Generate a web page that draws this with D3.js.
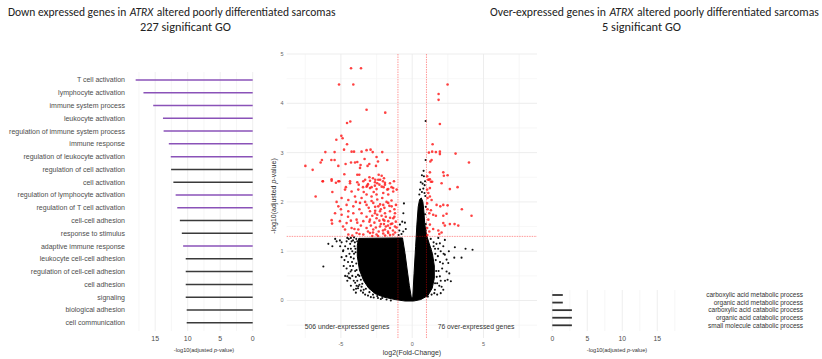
<!DOCTYPE html>
<html>
<head>
<meta charset="utf-8">
<script src="https://cdn.jsdelivr.net/npm/d3@7"></script>
<style>
  body { margin: 0; background: #fff; }
  text { font-family: "Liberation Sans", Arial, sans-serif; }
</style>
</head>
<body>
<script>
var width = 822, height = 359;

// GO terms of the down expressed genes (left panel), top to bottom
var downTerms = ["T cell activation", "lymphocyte activation", "immune system process",
  "leukocyte activation", "regulation of immune system process", "immune response",
  "regulation of leukocyte activation", "regulation of cell activation", "cell activation",
  "regulation of lymphocyte activation", "regulation of T cell activation", "cell-cell adhesion",
  "response to stimulus", "adaptive immune response", "leukocyte cell-cell adhesion",
  "regulation of cell-cell adhesion", "cell adhesion", "signaling", "biological adhesion",
  "cell communication"];
var downScore = [18.0, 16.8, 15.3, 13.8, 13.7, 12.9, 12.6, 12.55, 12.2, 11.85,
  11.6, 11.2, 10.9, 10.7, 10.3, 10.3, 10.3, 10.3, 10.15, 10.15];
var downImmune = [1, 1, 1, 1, 1, 1, 1, 0, 0, 1, 1, 0, 0, 1, 0, 0, 0, 0, 0, 0];
var downTicks = [0, 5, 10, 15];

// GO terms of the over-expressed genes (right panel)
var upTerms = ["carboxylic acid metabolic process", "organic acid metabolic process",
  "carboxylic acid catabolic process", "organic acid catabolic process",
  "small molecule catabolic process"];
var upScore = [1.5, 1.5, 2.8, 2.8, 2.8];
var upTicks = [0, 5, 10, 15];

// volcano: [log2 fold change, -log10 adjusted p]
var volcanoXTicks = [-5, 0, 5];
var volcanoYTicks = [0, 1, 2, 3, 4, 5];
var fcCut = 1, pCut = -Math.log10(0.05);

var redDown = [
  [-4.29,4.71],[-3.59,4.71],[-5.13,4.38],[-4.13,4.38],[-3.20,3.87],[-1.89,3.81],
  [-4.57,3.60],[-4.34,3.63],[-4.97,3.34],[-4.88,3.29],[-5.32,3.26],[-4.57,3.17],[-4.78,3.06],
  [-6.09,3.01],[-5.44,3.01],[-4.25,3.02],[-4.08,3.02],[-3.55,3.02],[-3.20,3.05],[-2.92,3.06],
  [-2.77,3.01],[-2.10,3.01],[-2.50,2.91],[-1.75,2.85],[-6.33,2.85],[-5.67,2.85],[-5.44,2.85],
  [-6.42,2.80],[-7.49,2.73],[-6.98,2.65],[-5.18,2.73],[-4.67,2.77],[-4.29,2.80],[-4.01,2.80],
  [-3.85,2.81],[-3.34,2.87],[-3.01,2.77],[-3.13,2.73],[-3.62,2.75],[-3.66,2.69],[-2.54,2.73],
  [-2.40,2.82],[-4.76,2.56],[-3.85,2.55],[-3.71,2.55],[-5.65,2.46],[-6.26,2.42],[-5.35,2.39],
  [-5.11,2.42],[-4.36,2.42],[-2.59,2.45],[-2.14,2.53],[-1.91,2.39],[-1.98,2.48],[-1.33,2.28],
  [-1.68,2.26],[-3.75,2.35],[-3.45,2.30],[-3.10,2.36],[-2.85,2.30],[-2.62,2.33],[-2.45,2.38],
  [-2.25,2.45],[-2.00,2.30],[-3.00,2.50],[-2.75,2.48],[-2.35,2.55],[-3.30,2.45],
  [-6.77,2.11],[-6.28,2.42],[-5.65,2.43],[-5.18,2.42],[-4.36,2.38],[-3.85,2.40],[-3.43,2.42],
  [-2.96,2.43],[-2.61,2.40],[-2.38,2.45],[-3.20,2.31],[-2.96,2.28],[-2.50,2.26],[-2.14,2.31],
  [-1.91,2.35],[-1.56,2.38],[-1.28,2.42],[-4.71,2.25],[-4.25,2.21],[-3.78,2.25],[-4.95,2.08],
  [-4.48,2.04],[-4.01,2.11],[-3.55,2.08],[-3.20,2.15],[-2.85,2.11],[-2.50,2.15],[-2.03,2.18],
  [-1.68,2.15],[-1.33,2.21],[-1.09,2.25],[-5.65,1.63],[-5.62,1.56],[-5.18,1.91],[-4.60,1.94],
  [-4.13,1.91],[-3.66,1.98],[-3.20,1.94],[-2.73,1.98],[-2.38,1.91],[-2.03,1.94],[-1.68,1.98],
  [-1.44,1.91],[-1.14,1.94],[-5.41,1.77],[-4.95,1.74],[-4.48,1.81],[-4.13,1.77],[-3.55,1.77],
  [-2.96,1.81],[-2.61,1.77],[-2.26,1.81],[-1.91,1.77],[-1.56,1.81],[-1.21,1.77],[-5.07,1.61],
  [-4.60,1.57],[-3.90,1.64],[-3.43,1.61],[-2.96,1.64],[-2.50,1.67],[-2.03,1.64],[-1.68,1.61],
  [-1.33,1.67],[-4.71,1.44],[-4.25,1.47],[-3.78,1.44],[-3.20,1.47],[-2.73,1.44],[-2.26,1.50],
  [-1.91,1.44],[-1.56,1.47],[-1.21,1.50],[-4.48,1.34],[-3.90,1.37],[-3.43,1.34],[-2.96,1.37],
  [-2.50,1.34],[-2.03,1.36],[-1.68,1.37],[-1.33,1.34],
  [-3.30,2.00],[-3.05,1.88],[-2.85,2.02],[-2.60,1.90],[-2.45,2.05],[-2.25,1.95],[-2.10,2.08],
  [-1.95,1.88],[-1.80,2.00],[-1.60,1.92],[-1.45,2.03],[-1.25,1.85],[-3.20,1.70],[-3.00,1.60],
  [-2.80,1.72],[-2.65,1.58],[-2.45,1.74],[-2.30,1.62],[-2.15,1.72],[-1.98,1.55],[-1.85,1.70],
  [-1.70,1.52],[-1.55,1.68],[-1.40,1.56],[-1.25,1.70],[-1.15,1.60],[-3.10,1.40],[-2.90,1.52],
  [-2.75,1.38],[-2.55,1.48],[-2.35,1.40],[-2.20,1.55],[-2.05,1.42],[-1.85,1.50],[-1.70,1.40],
  [-1.50,1.55],[-1.35,1.42],[-1.20,1.38],[-1.10,1.48],[-3.60,1.52],[-3.85,1.58],[-4.05,1.45],
  [-3.70,1.85],[-3.95,2.00],[-4.30,1.62],[-4.50,1.70],[-3.40,2.20],[-2.70,2.20],[-2.30,2.35],
  [-1.75,2.25],[-1.45,2.30],[-2.20,1.85],[-2.60,1.82],[-1.95,1.62],[-2.80,1.31],[-2.40,1.31],
  [-1.90,1.32],[-1.55,1.33],[-3.70,1.35],[-4.20,1.32],[-4.85,1.50],[-5.00,1.85],[-5.30,2.00],
  [-5.60,2.20],[-4.65,2.30],[-3.15,2.33],[-2.05,2.42]
];

var redUp = [
  [2.48,4.38],[1.85,4.19],[1.85,4.07],[1.94,3.58],[1.43,3.17],[1.17,3.00],[1.40,3.02],
  [1.66,3.01],[1.94,3.02],[1.94,2.97],[3.04,2.98],[1.36,2.85],[1.27,2.82],[3.98,2.80],
  [1.24,2.60],[2.18,2.60],[2.22,2.53],[2.48,2.54],[1.05,2.52],[1.13,2.45],[1.24,2.46],
  [1.40,2.41],[2.06,2.38],[3.18,2.30],[2.64,2.26],[1.24,2.28],[1.15,2.45],[1.31,2.41],
  [1.05,2.25],[1.13,2.18],[1.24,2.11],[1.08,2.08],[1.36,2.04],[1.05,1.97],[1.71,1.94],
  [1.97,1.91],[2.18,1.94],[2.48,1.93],[3.48,1.85],[4.16,1.72],[1.08,1.85],[1.31,1.83],
  [1.20,1.77],[2.41,1.76],[2.18,1.72],[1.47,1.74],[1.66,1.72],[2.64,1.55],[2.97,1.55],
  [3.23,1.52],[2.18,1.57],[2.29,1.52],[1.83,1.42],[2.06,1.38],[1.90,1.35],[1.13,1.64],
  [1.24,1.54],[1.05,1.47],[1.20,1.40],[1.06,1.33],[1.47,1.45]
];

// dense core of the non-significant genes, traced as an outline
var blackCore = [
  [-3.75,1.26],[-0.68,1.27],[-0.5,0.95],[-0.35,0.62],[-0.2,0.3],[-0.06,0.06],[0.04,0.06],
  [0.13,0.55],[0.24,1.1],[0.33,1.55],[0.42,1.9],[0.52,2.05],[0.64,2.08],[0.75,2.0],
  [0.82,1.8],[0.88,1.55],[1.0,1.33],[1.2,1.15],[1.42,0.95],[1.55,0.7],[1.55,0.45],
  [1.4,0.25],[1.1,0.1],[0.6,0.02],[0.1,-0.01],[-0.5,-0.01],[-1.2,0.02],[-2.0,0.07],
  [-2.6,0.14],[-3.05,0.25],[-3.4,0.4],[-3.7,0.62],[-3.85,0.9],[-3.85,1.12]
];

// scattered non-significant genes around the core
var blackPts = [
  [-4.45,1.25],[-4.6,1.2],[-4.35,1.15],[-4.7,1.1],[-4.5,1.05],[-4.85,1.0],[-4.4,0.95],
  [-4.62,0.9],[-4.3,0.88],[-4.75,0.82],[-4.5,0.78],[-4.35,0.7],[-4.6,0.65],[-4.25,0.62],
  [-4.45,0.55],[-4.2,0.5],[-4.35,0.45],[-4.1,0.4],[-4.0,0.36],[-3.9,0.3],[-3.8,0.25],
  [-3.6,0.2],[-3.45,0.16],[-3.3,0.12],[-3.1,0.1],[-2.9,0.07],[-2.7,0.06],[-2.4,0.05],
  [-2.2,0.03],[-1.8,0.02],[-1.5,0.0],[-4.95,1.18],[-5.05,1.1],[-4.95,0.88],[-4.8,0.7],
  [-4.7,0.5],[-4.55,0.4],[-4.3,0.3],[-4.1,0.22],[-3.95,0.16],
  [-4.15,1.22],[-4.05,1.1],[-4.2,1.0],[-4.1,0.85],[-4.15,0.7],[-4.0,0.6],[-3.95,0.48],
  [-3.85,0.4],[-3.7,0.32],[-3.55,0.28],[-3.4,0.22],[-4.3,1.05],[-4.25,1.2],[-4.02,1.18],
  [-3.98,1.05],[-4.08,0.95],[-3.92,0.75],[-4.22,0.78],[-3.7,0.5],[-3.6,0.42],
  [-3.92,1.25],[-3.97,0.98],[-3.9,0.62],[-3.8,0.52],[-3.5,0.34],[-3.25,0.24],[-3.0,0.17],
  [-2.75,0.12],[-2.45,0.09],[-2.1,0.05],[-4.08,1.28],[-4.3,1.27],[-4.55,1.27],[-3.86,1.2],
  [-6.23,0.69],[-5.88,1.15],[-5.3,1.2],[-5.07,1.22],[-4.83,1.02],[-4.55,0.49],[-4.43,0.46],
  [-4.32,0.59],[-3.94,0.24],[-3.78,0.29],[-5.4,1.25],[-5.6,1.1],
  [-0.58,1.97],[-0.62,1.77],[-0.51,1.58],[-0.63,1.40],[-0.86,1.54],[-0.75,1.35],[-0.9,1.42],
  [-0.45,1.45],[-0.7,1.6],[-0.95,1.33],
  [0.94,3.64],[0.94,2.85],[0.80,2.63],[0.68,2.54],[0.82,2.52],[0.73,2.37],[0.87,2.34],
  [0.78,2.27],[0.9,2.42],[0.6,2.4],[0.55,2.25],[0.92,2.12],[0.95,1.9],[0.95,1.55],
  [0.86,2.18],[0.68,2.2],[0.5,2.15],[0.9,1.75],[0.94,1.42],
  [1.3,1.25],[1.5,1.18],[1.83,1.27],[1.94,1.16],[2.18,1.10],[2.29,1.23],[2.29,0.93],
  [2.41,0.83],[2.53,0.76],[2.41,0.59],[2.48,0.42],[2.71,0.39],[2.06,0.28],[2.18,0.22],
  [1.94,0.49],[1.59,0.22],[1.36,0.12],[2.1,0.65],[2.2,0.95],[2.0,1.0],[1.7,1.15],[2.57,1.00],
  [2.99,1.08],[3.74,1.05],[4.23,1.03],[2.95,0.87],[3.46,0.87],[2.6,0.55],[2.3,0.4],[2.0,0.15],
  [1.1,0.08],[2.15,0.75],[1.75,0.12],[1.8,0.9],[1.85,0.6],[1.75,0.35],[1.95,0.78],[1.6,1.05],
  [1.72,0.48],[2.0,0.4],[1.9,0.3],[1.55,0.15],[1.82,1.05],[1.65,0.82],[1.68,0.6],[1.6,0.35],
  [1.5,1.1],[1.28,1.05],[1.62,0.95]
];

var svg = d3.select('body').append('svg')
    .attr('width', width)
    .attr('height', height);

var gridMajor = '#ebebeb', gridMinor = '#f4f4f4', axisText = '#4d4d4d';

// ---- titles: words laid side by side (no padded spaces), size fitted to width ----
function title(x, y, parts, w) {
  var g = svg.append('g');
  var nodes = parts.map(function(p) {
    return g.append('text')
      .attr('y', y)
      .style('font-family', 'Carlito, Calibri, Lato, sans-serif')
      .style('font-style', p[1] ? 'italic' : 'normal')
      .attr('fill', '#222')
      .text(p[0]);
  });
  function lay(s) {
    var cx = x, gap = 0.3 * s;
    nodes.forEach(function(n, i) {
      n.style('font-size', s + 'px').attr('x', cx);
      cx += n.node().getComputedTextLength() + (i < nodes.length - 1 ? gap : 0);
    });
    return cx - x;
  }
  var tw = lay(12.5);
  lay(+(12.5 * w / tw).toFixed(2));
}
title(8, 15.6, [['Down expressed genes in'], ['ATRX', 1], ['altered poorly differentiated sarcomas']], 328);
title(140, 30.8, [['227 significant GO']], 91);
title(490, 15.6, [['Over-expressed genes in'], ['ATRX', 1], ['altered poorly differentiated sarcomas']], 329);
title(602, 30.8, [['5 significant GO']], 79);

function pTitle(g, x, y, size) {
  var t = g.append('text').attr('x', x).attr('y', y)
    .attr('text-anchor', 'middle')
    .style('font-size', size + 'px').attr('fill', '#333');
  t.append('tspan').text('-log10(adjusted ');
  t.append('tspan').text('p').style('font-style', 'italic');
  t.append('tspan').text('-value)');
  return t;
}

// ---- left panel: down expressed GO terms ----
var xL = d3.scaleLinear().domain([0, 18.9]).range([252.7, 129.8]);
var yL = d3.scalePoint().domain(downTerms).range([80, 322.7]);
var left = svg.append('g');

left.selectAll('.grid')
  .data(d3.range(0, 18, 2.5))
  .enter().append('line')
  .attr('x1', function(d) { return xL(d); })
  .attr('x2', function(d) { return xL(d); })
  .attr('y1', 72).attr('y2', 331)
  .attr('stroke', function(d) { return d % 5 ? gridMinor : gridMajor; })
  .attr('stroke-width', 0.8);

left.selectAll('.seg')
  .data(downTerms)
  .enter().append('line')
  .attr('x1', xL(0))
  .attr('x2', function(d, i) { return xL(downScore[i]); })
  .attr('y1', function(d) { return yL(d); })
  .attr('y2', function(d) { return yL(d); })
  .attr('stroke', function(d, i) { return downImmune[i] ? '#8a52b8' : '#3a3a3a'; })
  .attr('stroke-width', 1.5);

left.selectAll('.lab')
  .data(downTerms)
  .enter().append('text')
  .attr('x', 125)
  .attr('y', function(d) { return yL(d); })
  .attr('dy', '0.35em')
  .attr('text-anchor', 'end')
  .style('font-size', '7px')
  .attr('fill', axisText)
  .text(function(d) { return d; });

left.selectAll('.tick')
  .data(downTicks)
  .enter().append('text')
  .attr('x', function(d) { return xL(d); })
  .attr('y', 340.5)
  .attr('text-anchor', 'middle')
  .style('font-size', '7px')
  .attr('fill', axisText)
  .text(function(d) { return d; });
pTitle(left, 204, 351.5, 5.6);

// ---- right panel: over-expressed GO terms ----
var xR = d3.scaleLinear().domain([0, 15]).range([552.3, 657.3]);
var yR = d3.scalePoint().domain(upTerms).range([295, 325.3]);
var right = svg.append('g');

right.selectAll('.grid')
  .data(d3.range(0, 18, 2.5))
  .enter().append('line')
  .attr('x1', function(d) { return xR(d); })
  .attr('x2', function(d) { return xR(d); })
  .attr('y1', 290).attr('y2', 331)
  .attr('stroke', function(d) { return d % 5 ? gridMinor : gridMajor; })
  .attr('stroke-width', 0.8);

right.selectAll('.seg')
  .data(upTerms)
  .enter().append('line')
  .attr('x1', xR(0))
  .attr('x2', function(d, i) { return xR(upScore[i]); })
  .attr('y1', function(d) { return yR(d); })
  .attr('y2', function(d) { return yR(d); })
  .attr('stroke', '#333')
  .attr('stroke-width', 1.8);

right.selectAll('.lab')
  .data(upTerms)
  .enter().append('text')
  .attr('x', 803)
  .attr('y', function(d) { return yR(d); })
  .attr('dy', '0.35em')
  .attr('text-anchor', 'end')
  .style('font-size', '6.5px')
  .attr('fill', '#333')
  .text(function(d) { return d; });

right.selectAll('.tick')
  .data(upTicks)
  .enter().append('text')
  .attr('x', function(d) { return xR(d); })
  .attr('y', 341)
  .attr('text-anchor', 'middle')
  .style('font-size', '6.8px')
  .attr('fill', axisText)
  .text(function(d) { return d; });
pTitle(right, 617, 351.5, 5.6);

// ---- volcano plot ----
var x = d3.scaleLinear().domain([-8.8, 8.75]).range([286.7, 537]);
var y = d3.scaleLinear().domain([-0.76, 5.0]).range([338, 54]);
var vol = svg.append('g');

var xMinor = [-7.5, -2.5, 2.5, 7.5], yMinor = [-0.5, 0.5, 1.5, 2.5, 3.5, 4.5];
vol.selectAll('.gxm').data(xMinor).enter().append('line')
  .attr('x1', x).attr('x2', x).attr('y1', 54).attr('y2', 338)
  .attr('stroke', gridMinor).attr('stroke-width', 0.7);
vol.selectAll('.gym').data(yMinor).enter().append('line')
  .attr('y1', y).attr('y2', y).attr('x1', 286.7).attr('x2', 537)
  .attr('stroke', gridMinor).attr('stroke-width', 0.7);
vol.selectAll('.gx').data(volcanoXTicks).enter().append('line')
  .attr('x1', x).attr('x2', x).attr('y1', 54).attr('y2', 338)
  .attr('stroke', gridMajor).attr('stroke-width', 0.9);
vol.selectAll('.gy').data(volcanoYTicks).enter().append('line')
  .attr('y1', y).attr('y2', y).attr('x1', 286.7).attr('x2', 537)
  .attr('stroke', gridMajor).attr('stroke-width', 0.9);

vol.append('path')
  .datum(blackCore)
  .attr('d', d3.line().x(function(d) { return x(d[0]); }).y(function(d) { return y(d[1]); }).curve(d3.curveLinearClosed))
  .attr('fill', '#000')
  .attr('stroke', '#000')
  .attr('stroke-width', 1)
  .attr('stroke-linejoin', 'round');

vol.selectAll('.nb').data(blackPts).enter().append('circle')
  .attr('cx', function(d) { return x(d[0]); })
  .attr('cy', function(d) { return y(d[1]); })
  .attr('r', 1.05)
  .attr('fill', '#111');

vol.selectAll('.sig').data(redDown.concat(redUp)).enter().append('circle')
  .attr('cx', function(d) { return x(d[0]); })
  .attr('cy', function(d) { return y(d[1]); })
  .attr('r', 1.3)
  .attr('fill', '#ff2020')
  .attr('fill-opacity', 0.85);

// thresholds
vol.selectAll('.vcut').data([-fcCut, fcCut]).enter().append('line')
  .attr('x1', x).attr('x2', x).attr('y1', 54).attr('y2', 338)
  .attr('stroke', '#ff0000').attr('stroke-opacity', 0.45)
  .attr('stroke-width', 0.9).attr('stroke-dasharray', '1.5,1');
vol.append('line')
  .attr('x1', 286.7).attr('x2', 537).attr('y1', y(pCut)).attr('y2', y(pCut))
  .attr('stroke', '#ff0000').attr('stroke-opacity', 0.45)
  .attr('stroke-width', 0.9).attr('stroke-dasharray', '1.5,1');

vol.selectAll('.xt').data(volcanoXTicks).enter().append('text')
  .attr('x', x).attr('y', 346)
  .attr('text-anchor', 'middle').style('font-size', '5.5px').attr('fill', '#666')
  .text(function(d) { return d; });
vol.selectAll('.yt').data(volcanoYTicks).enter().append('text')
  .attr('x', 283.5).attr('y', y).attr('dy', '0.35em')
  .attr('text-anchor', 'end').style('font-size', '5.5px').attr('fill', '#666')
  .text(function(d) { return d; });

vol.append('text')
  .attr('x', 412).attr('y', 354.5)
  .attr('text-anchor', 'middle').style('font-size', '7px').attr('fill', '#333')
  .text('log2(Fold-Change)');
var yt = pTitle(vol, 0, 0, 7);
yt.attr('transform', 'translate(275.5,196) rotate(-90)');

vol.append('text')
  .attr('x', 347).attr('y', 328.5)
  .attr('text-anchor', 'middle').style('font-size', '6.8px').attr('fill', '#333')
  .text('506 under-expressed genes');
vol.append('text')
  .attr('x', 476).attr('y', 328.5)
  .attr('text-anchor', 'middle').style('font-size', '6.8px').attr('fill', '#333')
  .text('76 over-expressed genes');
</script>
</body>
</html>
